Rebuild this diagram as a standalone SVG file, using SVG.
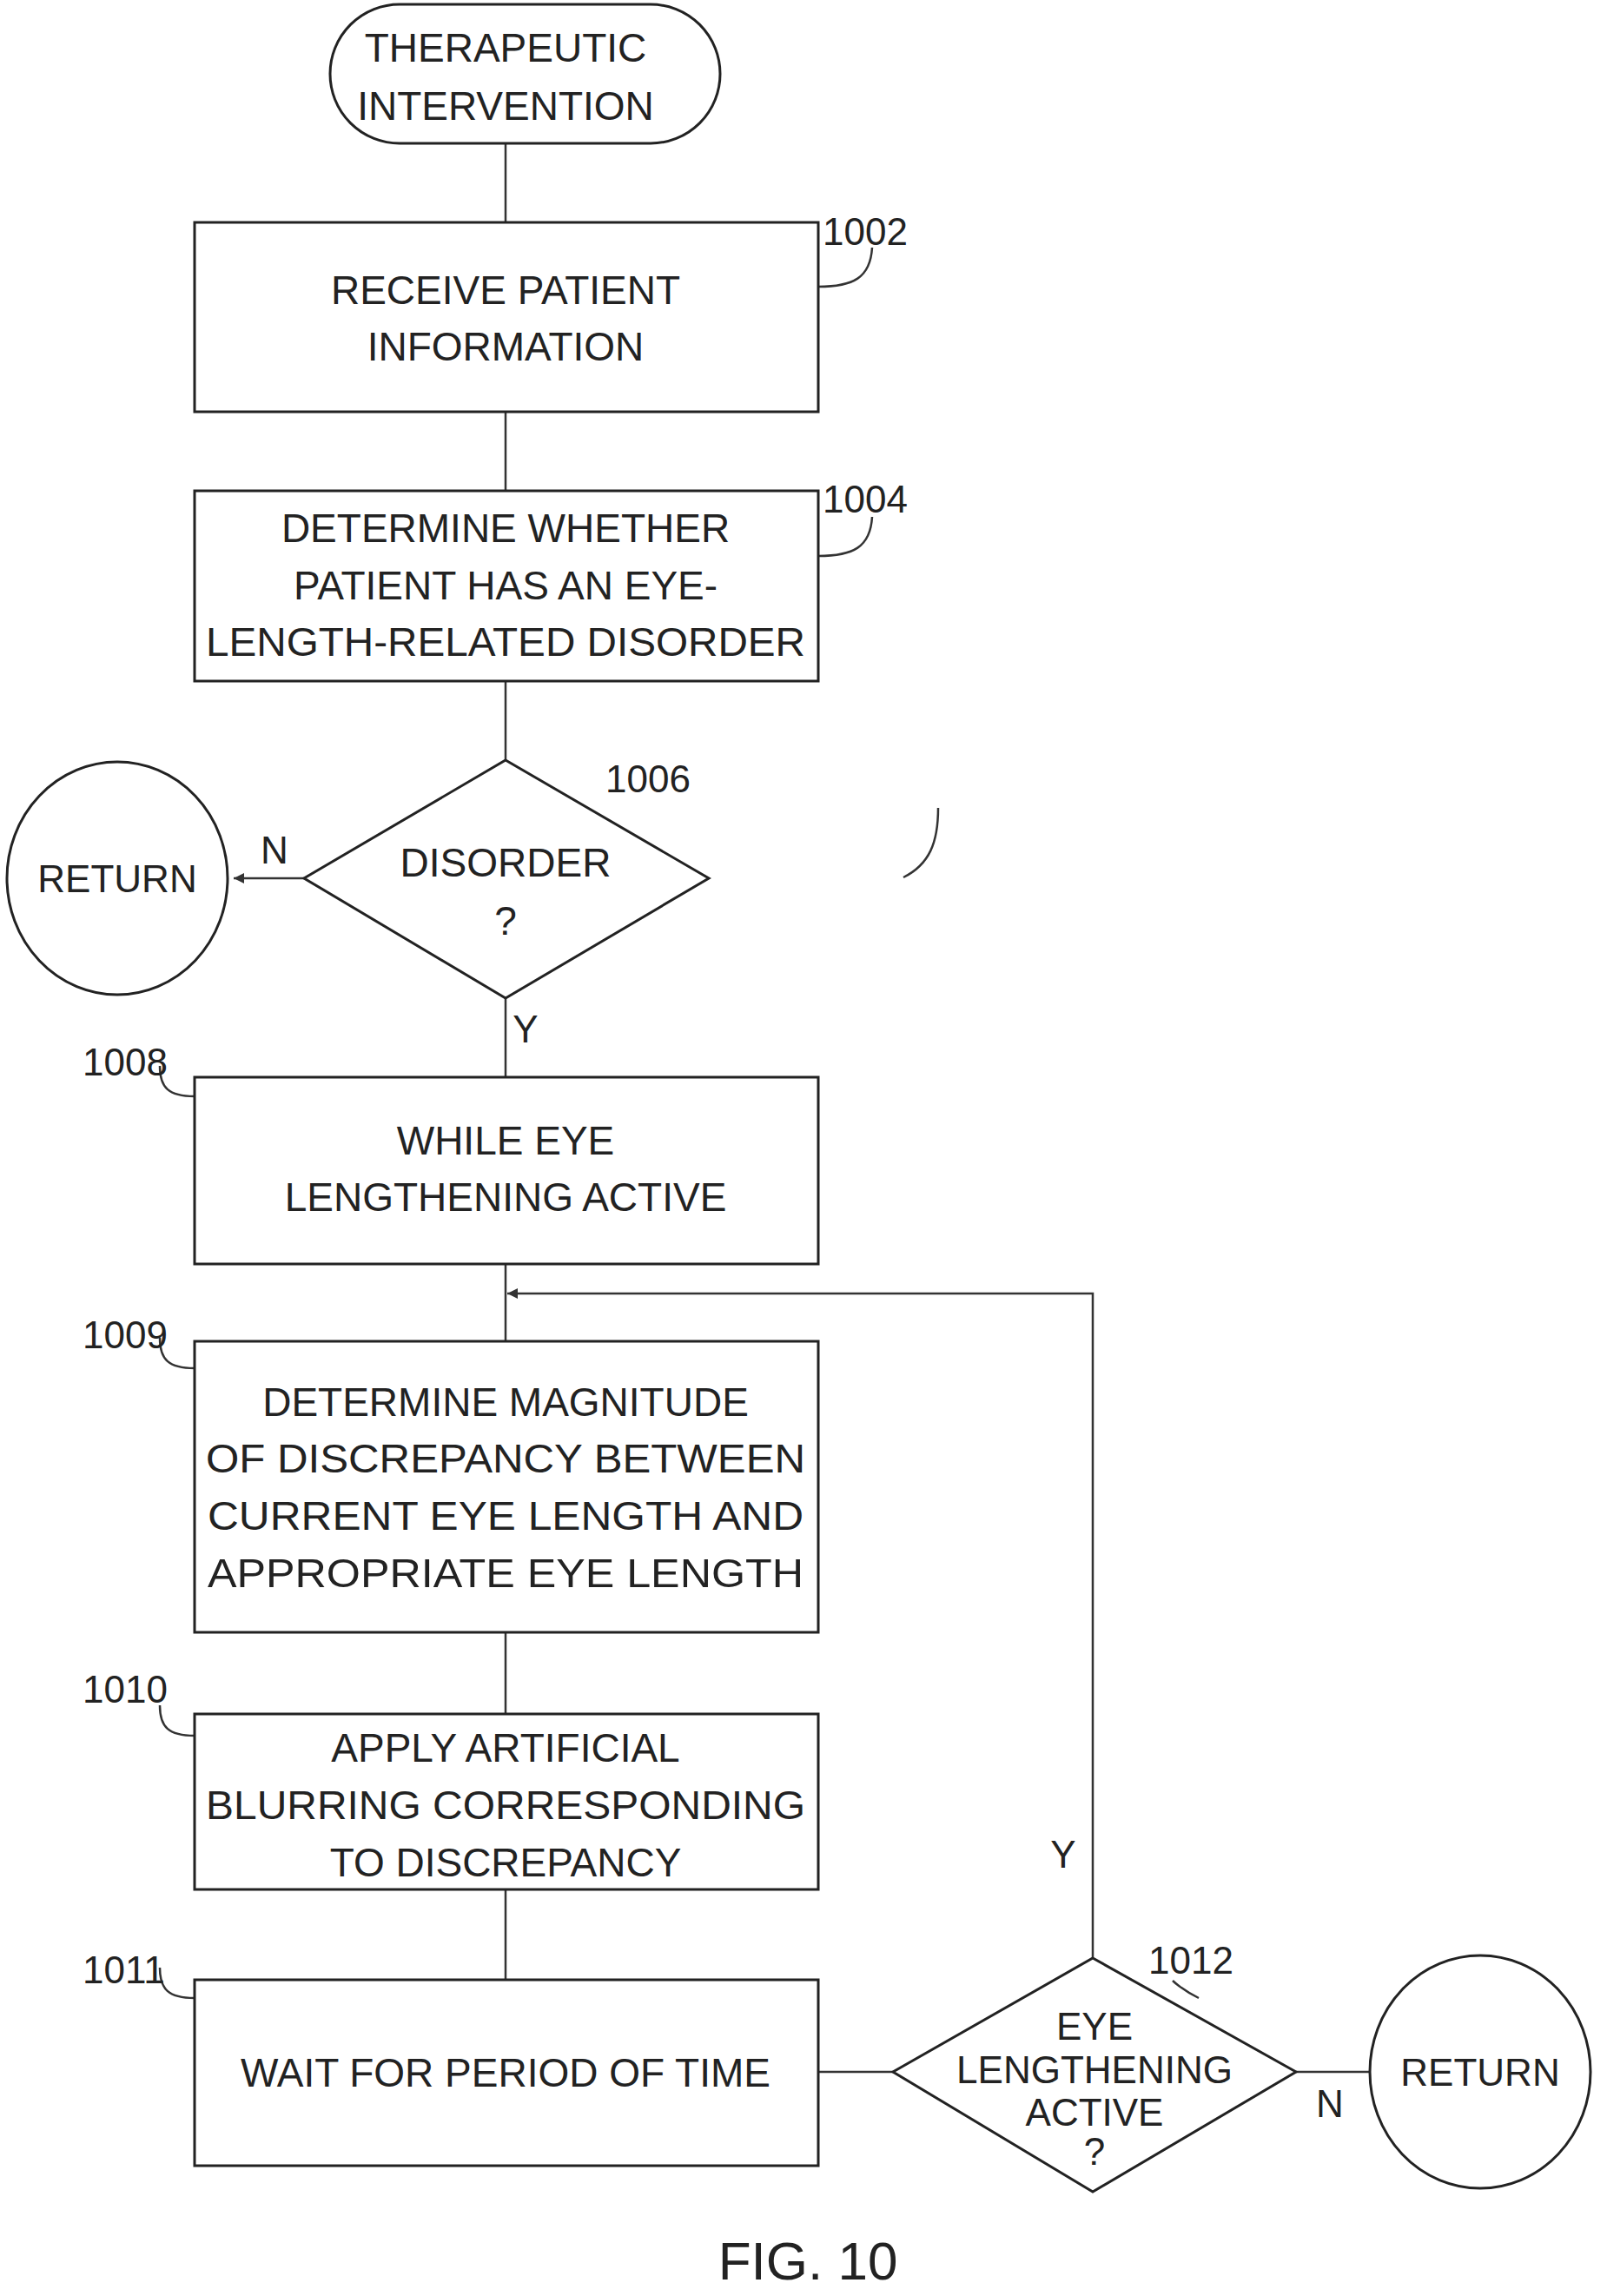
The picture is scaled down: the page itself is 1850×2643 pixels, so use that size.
<svg xmlns="http://www.w3.org/2000/svg" width="1850" height="2643" viewBox="0 0 1850 2643">
<style>
.s{fill:#fff;stroke:#222;stroke-width:3}
.l{fill:none;stroke:#333;stroke-width:2.5}
text{font-family:"Liberation Sans",Arial,sans-serif;font-size:46px;fill:#222;text-anchor:middle}
.r{font-size:44px}
.n{text-anchor:start;font-size:44px}
</style>
<defs><marker id="a" viewBox="0 0 10 10" refX="10" refY="5" markerWidth="12" markerHeight="12" markerUnits="userSpaceOnUse" orient="auto"><path d="M0,0 L10,5 L0,10 z" fill="#333"/></marker></defs>
<g id="connectors">
<path class="l" d="M582 165V256M582 474V565M582 784V875M582 1149V1240M582 1455V1544M582 1879V1973M582 2175V2279M942 2385H1028M1492 2385H1580"/>
<path class="l" d="M350 1011H269" marker-end="url(#a)"/>
<path class="l" d="M1258 2254V1489H584" marker-end="url(#a)"/>
<path class="l" d="M942 330c40 0 60-10 62-45M942 640c40 0 60-10 62-45M1040 1010c30-15 40-40 40-80M224 1262c-30 0-40-10-40-35M224 1575c-30 0-40-10-40-35M224 1998c-30 0-40-10-40-35M224 2300c-30 0-40-10-40-35M1380 2300c-20-10-30-20-30-20"/>
</g>
<g id="start"><rect class="s" x="380" y="5" width="449" height="160" rx="80"/><text x="582" y="71">THERAPEUTIC</text><text x="582" y="138">INTERVENTION</text></g>
<g id="n1002"><rect class="s" x="224" y="256" width="718" height="218"/><text x="582" y="350">RECEIVE PATIENT</text><text x="582" y="415">INFORMATION</text><text class="n" x="947" y="282">1002</text></g>
<g id="n1004"><rect class="s" x="224" y="565" width="718" height="219"/><text x="582" y="624">DETERMINE WHETHER</text><text x="582" y="690">PATIENT HAS AN EYE-</text><text x="582" y="755" textLength="690" lengthAdjust="spacingAndGlyphs">LENGTH-RELATED DISORDER</text><text class="n" x="947" y="590">1004</text></g>
<g id="n1006"><path class="s" d="M582 875L816 1011L582 1149L350 1011z"/><text x="582" y="1009">DISORDER</text><text x="582" y="1076">?</text><text class="n" x="697" y="912">1006</text></g>
<g id="ret1"><ellipse class="s" cx="135" cy="1011" rx="127" ry="134"/><text class="r" x="135" y="1027">RETURN</text><text class="r" x="316" y="994">N</text></g>
<text class="r" x="605" y="1200">Y</text>
<g id="n1008"><rect class="s" x="224" y="1240" width="718" height="215"/><text x="582" y="1329">WHILE EYE</text><text x="582" y="1394">LENGTHENING ACTIVE</text><text class="n" x="95" y="1238">1008</text></g>
<g id="n1009"><rect class="s" x="224" y="1544" width="718" height="335"/><text x="582" y="1630">DETERMINE MAGNITUDE</text><text x="582" y="1695" textLength="690" lengthAdjust="spacingAndGlyphs">OF DISCREPANCY BETWEEN</text><text x="582" y="1761" textLength="686" lengthAdjust="spacingAndGlyphs">CURRENT EYE LENGTH AND</text><text x="582" y="1827" textLength="686" lengthAdjust="spacingAndGlyphs">APPROPRIATE EYE LENGTH</text><text class="n" x="95" y="1552">1009</text></g>
<g id="n1010"><rect class="s" x="224" y="1973" width="718" height="202"/><text x="582" y="2028">APPLY ARTIFICIAL</text><text x="582" y="2094" textLength="690" lengthAdjust="spacingAndGlyphs">BLURRING CORRESPONDING</text><text x="582" y="2160">TO DISCREPANCY</text><text class="n" x="95" y="1960">1010</text></g>
<g id="n1011"><rect class="s" x="224" y="2279" width="718" height="214"/><text x="582" y="2402">WAIT FOR PERIOD OF TIME</text><text class="n" x="95" y="2283">1011</text></g>
<g id="n1012"><path class="s" d="M1258 2254L1492 2385L1258 2523L1028 2385z"/><text class="r" x="1260" y="2348">EYE</text><text class="r" x="1260" y="2398">LENGTHENING</text><text class="r" x="1260" y="2447">ACTIVE</text><text class="r" x="1260" y="2492">?</text><text class="n" x="1322" y="2272">1012</text></g>
<g id="ret2"><ellipse class="s" cx="1704" cy="2385" rx="127" ry="134"/><text class="r" x="1704" y="2401">RETURN</text><text class="r" x="1531" y="2437">N</text></g>
<text class="r" x="1224" y="2150">Y</text>
<text x="930" y="2624" style="font-size:62px">FIG. 10</text>
</svg>
